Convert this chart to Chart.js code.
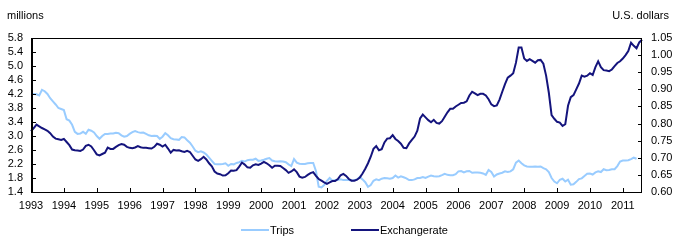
<!DOCTYPE html>
<html>
<head>
<meta charset="utf-8">
<script src="https://cdn.jsdelivr.net/npm/chart.js@4"></script>
<style>
    body { margin: 0; background: #fff; }
    #wrap { position: relative; width: 678px; height: 248px; font-family: "Liberation Sans", Arial, sans-serif; font-size: 11px; color: #000; }
    #wrap canvas { position: absolute; left: 0; top: 0; }
    .txt { position: absolute; white-space: nowrap; line-height: 13px; }
    .key { position: absolute; height: 2px; width: 28px; }
</style>
</head>
<body>
<div id="wrap">
    <canvas id="myChart" width="678" height="248"></canvas>
    <div class="txt" style="left:7px; top:9px;">millions</div>
    <div class="txt" style="right:9px; top:9px;">U.S. dollars</div>
    <div class="key" style="left:241px; top:229px; background:#99ccff;"></div>
    <div class="txt" style="left:270px; top:224px;">Trips</div>
    <div class="key" style="left:351px; top:229px; background:#14147d;"></div>
    <div class="txt" style="left:380px; top:224px;">Exchangerate</div>
</div>
<script>
// monthly values, Jan 1993 to Aug 2011
const yearLabels = ['1993', '1994', '1995', '1996', '1997', '1998', '1999', '2000', '2001', '2002',
    '2003', '2004', '2005', '2006', '2007', '2008', '2009', '2010', '2011'];

// trips, millions (left axis)
const trips = [
    4.21, 4.20, 4.19, 4.16, 4.32, 4.28, 4.20, 4.08, 3.99, 3.90, 3.80, 3.77,
    3.74, 3.48, 3.44, 3.32, 3.12, 3.06, 3.07, 3.12, 3.06, 3.18, 3.15, 3.10,
    3.00, 2.92, 3.00, 3.06, 3.06, 3.07, 3.07, 3.09, 3.08, 3.02, 2.98, 3.00,
    3.06, 3.11, 3.14, 3.11, 3.09, 3.10, 3.06, 3.02, 3.00, 3.01, 3.00, 2.92,
    2.98, 3.08, 3.02, 2.94, 2.91, 2.90, 2.89, 2.97, 2.96, 2.88, 2.81, 2.70,
    2.58, 2.54, 2.56, 2.53, 2.47, 2.38, 2.29, 2.20, 2.19, 2.19, 2.20, 2.22,
    2.15, 2.20, 2.19, 2.23, 2.25, 2.29, 2.27, 2.31, 2.32, 2.32, 2.35, 2.29,
    2.30, 2.32, 2.35, 2.37, 2.30, 2.28, 2.27, 2.28, 2.27, 2.25, 2.19, 2.14,
    2.34, 2.24, 2.21, 2.20, 2.20, 2.22, 2.23, 2.23, 2.00, 1.55, 1.53, 1.60,
    1.72, 1.80, 1.72, 1.74, 1.74, 1.76, 1.74, 1.74, 1.74, 1.73, 1.74, 1.76,
    1.83, 1.76, 1.68, 1.55, 1.60, 1.72, 1.76, 1.74, 1.78, 1.80, 1.79, 1.78,
    1.80, 1.87, 1.81, 1.85, 1.82, 1.79, 1.74, 1.74, 1.76, 1.80, 1.80, 1.83,
    1.80, 1.84, 1.87, 1.85, 1.84, 1.85, 1.88, 1.92, 1.89, 1.88, 1.88, 1.91,
    1.99, 2.00, 1.96, 1.99, 2.00, 1.95, 1.96, 1.96, 1.95, 1.93, 1.89, 2.03,
    1.97, 1.84, 1.90, 1.93, 1.95, 1.99, 1.97, 1.99, 2.05, 2.24, 2.30, 2.22,
    2.16, 2.13, 2.12, 2.12, 2.13, 2.12, 2.13, 2.08, 2.05, 1.97, 1.80, 1.70,
    1.65, 1.75, 1.78, 1.70, 1.75, 1.61, 1.62, 1.69, 1.77, 1.79, 1.86, 1.92,
    1.93, 1.90, 1.96, 1.99, 1.97, 2.05, 2.02, 2.03, 2.05, 2.05, 2.14, 2.27,
    2.30, 2.30, 2.31, 2.34, 2.38, 2.35, null, null
];

// exchange rate, U.S. dollars (right axis)
const exchangeRate = [
    0.778, 0.787, 0.797, 0.792, 0.787, 0.783, 0.779, 0.772, 0.762, 0.756, 0.754, 0.752,
    0.755, 0.746, 0.737, 0.724, 0.722, 0.721, 0.720, 0.724, 0.735, 0.738, 0.733, 0.722,
    0.710, 0.707, 0.711, 0.715, 0.730, 0.726, 0.726, 0.732, 0.737, 0.740, 0.738, 0.732,
    0.729, 0.728, 0.730, 0.734, 0.731, 0.729, 0.729, 0.728, 0.727, 0.732, 0.741, 0.738,
    0.733, 0.738, 0.727, 0.715, 0.723, 0.721, 0.722, 0.719, 0.717, 0.720, 0.717, 0.706,
    0.695, 0.691, 0.696, 0.703, 0.695, 0.684, 0.675, 0.660, 0.654, 0.652, 0.648, 0.649,
    0.655, 0.663, 0.662, 0.664, 0.674, 0.686, 0.680, 0.672, 0.671, 0.678, 0.681, 0.679,
    0.683, 0.688, 0.684, 0.678, 0.671, 0.677, 0.677, 0.676, 0.670, 0.664, 0.656, 0.660,
    0.666, 0.658, 0.645, 0.642, 0.644, 0.650, 0.655, 0.658, 0.647, 0.638, 0.633, 0.628,
    0.624, 0.628, 0.632, 0.632, 0.638, 0.649, 0.653, 0.647, 0.638, 0.633, 0.633, 0.636,
    0.642, 0.654, 0.668, 0.684, 0.703, 0.726, 0.734, 0.722, 0.725, 0.745, 0.756, 0.757,
    0.766, 0.755, 0.749, 0.741, 0.729, 0.728, 0.742, 0.752, 0.762, 0.779, 0.815, 0.826,
    0.818, 0.810, 0.804, 0.811, 0.802, 0.800, 0.807, 0.820, 0.833, 0.843, 0.843, 0.850,
    0.855, 0.860, 0.861, 0.865, 0.882, 0.893, 0.888, 0.883, 0.887, 0.887, 0.882, 0.871,
    0.856, 0.851, 0.853, 0.870, 0.893, 0.915, 0.934, 0.940, 0.947, 0.978, 1.022, 1.022,
    0.990, 0.983, 0.988, 0.983, 0.978, 0.985, 0.986, 0.975, 0.940, 0.890, 0.825, 0.814,
    0.805, 0.803, 0.793, 0.798, 0.852, 0.877, 0.883, 0.900, 0.917, 0.940, 0.937, 0.940,
    0.947, 0.942, 0.965, 0.982, 0.965, 0.956, 0.955, 0.953, 0.958, 0.968, 0.977, 0.982,
    0.990, 1.000, 1.012, 1.036, 1.027, 1.020, 1.037, 1.045
];

const monthLabels = [];
yearLabels.forEach(function (year) {
    for (let m = 1; m <= 12; m++) {
        monthLabels.push(year + '-' + m);
    }
});
monthLabels.length = exchangeRate.length;

const tickFont = { family: '"Liberation Sans", Arial, sans-serif', size: 11 };

// box round the plot and the short tick marks pointing inwards
const frame = {
    id: 'frame',
    afterDraw(chart) {
        const ctx = chart.ctx;
        const a = chart.chartArea;
        const s = chart.scales;
        ctx.save();
        ctx.strokeStyle = '#000';
        ctx.lineWidth = 1;
        ctx.strokeRect(Math.round(a.left) + 0.5, Math.round(a.top) + 0.5,
            Math.round(a.right - a.left) - 1, Math.round(a.bottom - a.top));
        ctx.beginPath();
        ctx.moveTo(Math.round(a.left) + 1.5, a.top);
        ctx.lineTo(Math.round(a.left) + 1.5, a.bottom);
        s.y.ticks.forEach(function (t) {
            const y = Math.round(s.y.getPixelForValue(t.value)) + 0.5;
            ctx.moveTo(a.left, y);
            ctx.lineTo(a.left + 5, y);
        });
        s.y1.ticks.forEach(function (t) {
            const y = Math.round(s.y1.getPixelForValue(t.value)) + 0.5;
            ctx.moveTo(a.right, y);
            ctx.lineTo(a.right - 4, y);
        });
        for (let i = 0; i < monthLabels.length; i += 12) {
            const x = Math.round(s.x.getPixelForValue(i)) + 0.5;
            ctx.moveTo(x, a.bottom);
            ctx.lineTo(x, a.bottom - 4);
        }
        ctx.stroke();
        ctx.restore();
    }
};

new Chart('myChart', {
    type: 'line',
    data: {
        labels: monthLabels,
        datasets: [{
            label: 'Trips',
            data: trips,
            yAxisID: 'y',
            borderColor: '#99ccff',
            backgroundColor: '#99ccff',
            borderWidth: 2,
            pointRadius: 0,
            tension: 0,
            order: 2
        }, {
            label: 'Exchangerate',
            data: exchangeRate,
            yAxisID: 'y1',
            borderColor: '#14147d',
            backgroundColor: '#14147d',
            borderWidth: 2,
            pointRadius: 0,
            tension: 0,
            order: 1
        }]
    },
    options: {
        responsive: false,
        animation: false,
        devicePixelRatio: 1,
        layout: { padding: { top: 38, bottom: 36, left: 0, right: 0 } },
        plugins: { legend: { display: false }, tooltip: { enabled: false } },
        scales: {
            x: {
                type: 'category',
                offset: false,
                grid: { display: false, drawTicks: false },
                border: { display: false },
                ticks: {
                    autoSkip: false,
                    maxRotation: 0,
                    padding: 7,
                    color: '#000',
                    font: tickFont,
                    callback: function (v, i) {
                        return i % 12 === 0 ? yearLabels[i / 12] : null;
                    }
                },
                afterFit: function (scale) { scale.height = 20; }
            },
            y: {
                position: 'left',
                min: 1.4,
                max: 5.8,
                grid: { display: false, drawTicks: false },
                border: { display: false },
                ticks: {
                    stepSize: 0.4,
                    autoSkip: false,
                    padding: 8,
                    color: '#000',
                    font: tickFont,
                    callback: function (v) { return v.toFixed(1); }
                },
                afterFit: function (scale) { scale.width = 31; }
            },
            y1: {
                position: 'right',
                min: 0.6,
                max: 1.05,
                grid: { display: false, drawTicks: false },
                border: { display: false },
                ticks: {
                    stepSize: 0.05,
                    autoSkip: false,
                    padding: 9,
                    color: '#000',
                    font: tickFont,
                    callback: function (v) { return v.toFixed(2); }
                },
                afterFit: function (scale) { scale.width = 36; }
            }
        }
    },
    plugins: [frame]
});
</script>
</body>
</html>
